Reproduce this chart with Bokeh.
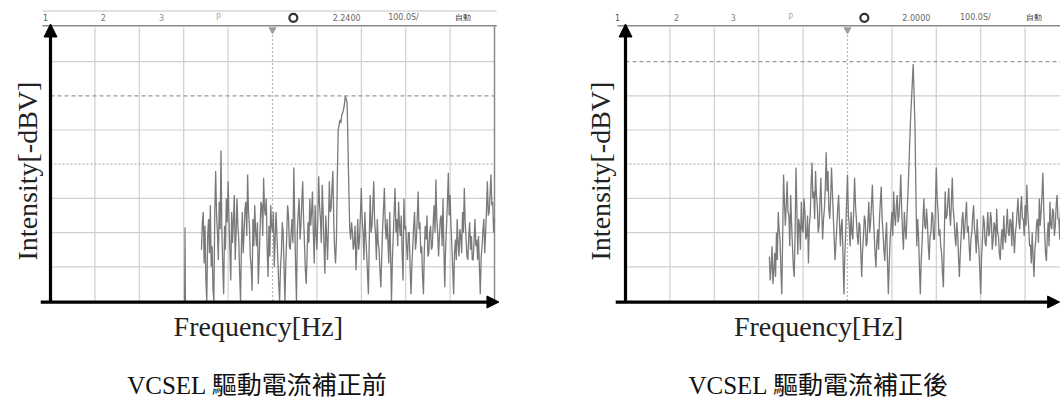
import numpy as np
from bokeh.plotting import figure
from bokeh.layouts import row
from bokeh.models import Arrow, NormalHead
from bokeh.core.properties import value
from bokeh.embed import file_html
from bokeh.resources import INLINE

# ---------------- data (screen divisions: x 0..10, y 0..8) ----------------
step = 0.02
left_start = 3.40
left_intensity = [
    1.5, 2.3, 2.6, 1.1, 2.2, 0.6, 0.0, 1.9, 2.4, 1.4, 2.8, 1.0, 1.6, 0.3, 0.0, 2.6,
    3.8, 2.5, 2.0, 1.2, 2.9, 2.1, 4.4, 2.0, 1.0, 0.2, 2.2, 1.5, 3.0, 2.3, 3.5, 2.4,
    1.5, 0.6, 2.6, 1.7, 2.4, 3.1, 1.2, 2.0, 3.0, 2.2, 1.8, 0.8, 0.0, 1.6, 2.6, 1.4,
    2.0, 2.7, 2.9, 1.9, 3.7, 2.6, 2.2, 1.3, 1.0, 0.3, 2.4, 1.6, 2.8, 2.0, 1.6, 2.3,
    0.5, 1.2, 2.1, 2.9, 2.8, 1.9, 3.6, 2.7, 2.5, 3.0, 1.5, 0.7, 2.2, 1.3, 2.8, 2.2,
    2.0, 2.6, 1.0, 1.8, 2.6, 1.9, 1.2, 0.5, 0.0, 1.0, 1.4, 2.3, 2.0, 1.0, 0.0, 1.1,
    1.9, 2.8, 2.5, 1.6, 1.5, 2.0, 2.4, 1.7, 3.9, 2.4, 1.0, 0.0, 2.1, 2.6, 3.0, 1.8,
    2.2, 2.9, 3.5, 2.4, 1.7, 0.9, 0.5, 1.4, 2.3, 1.7, 3.0, 2.2, 2.6, 3.2, 2.0, 1.1,
    2.8, 2.0, 1.5, 2.4, 3.65, 2.8, 2.4, 1.7, 3.4, 2.6, 1.6, 0.8, 2.5, 1.9, 1.2, 2.2,
    3.5, 2.6, 2.7, 3.3, 3.8, 2.3, 1.5, 1.1, 1.8, 3.6, 5.0, 5.15, 5.3, 5.2, 5.45, 5.5,
    5.6, 5.75, 6.0, 5.9, 5.8, 4.6, 3.2, 2.1, 1.8, 2.3, 2.0, 1.5, 1.7, 2.2, 0.9, 1.6,
    2.4, 1.5, 1.8, 2.5, 3.3, 2.4, 2.0, 1.2, 2.6, 1.9, 1.4, 0.8, 0.2, 1.8, 3.1, 2.0,
    2.2, 2.8, 3.5, 2.3, 2.0, 1.2, 2.4, 1.7, 1.5, 0.9, 0.4, 1.3, 2.1, 2.7, 3.3, 2.2,
    1.8, 2.4, 1.7, 1.1, 2.6, 1.4, 0.0, 1.2, 1.9, 2.6, 3.3, 2.0, 2.4, 1.6, 2.9, 2.2,
    1.9, 2.5, 1.4, 0.6, 3.0, 2.1, 2.2, 1.6, 1.2, 2.0, 2.0, 0.9, 0.2, 1.1, 1.6, 2.2,
    2.6, 1.5, 1.8, 2.4, 3.2, 2.1, 2.3, 1.4, 1.6, 0.7, 0.2, 1.5, 2.2, 1.8, 2.5, 1.3,
    1.4, 2.0, 2.2, 1.5, 1.6, 2.3, 2.8, 2.0, 3.55, 2.4, 2.0, 1.3, 1.9, 2.4, 2.5, 1.6,
    3.0, 1.5, 0.4, 1.6, 2.2, 2.9, 3.75, 2.5, 3.1, 2.2, 1.6, 0.9, 0.2, 1.4, 1.8, 1.2,
    2.4, 1.7, 1.3, 2.1, 1.9, 1.4, 2.6, 2.0, 3.3, 2.3, 1.8, 1.3, 1.2, 1.9, 2.3, 1.5,
    1.9, 1.2, 1.2, 1.8, 2.4, 1.6, 1.8, 1.2, 1.9, 1.0, 0.2, 1.3, 1.6, 2.1, 2.4, 1.4,
    2.0, 2.7, 3.5, 2.5, 2.6, 3.1, 3.7, 2.8, 2.9, 2.0, 2.4,
]
left_spike_freq = [3.02, 3.03, 3.04]
left_spike_intensity = [0.0, 2.15, 0.0]

right_start = 3.24
right_intensity = [
    1.3, 0.6, 1.0, 1.6, 0.5, 0.9, 1.4, 0.7, 2.0, 1.2, 2.6, 2.1, 1.8, 0.9, 0.2, 1.9,
    3.7, 2.9, 2.2, 2.8, 3.5, 2.6, 2.5, 1.6, 3.1, 2.3, 1.6, 1.0, 0.7, 2.0, 3.9, 2.7,
    1.35, 2.4, 2.2, 1.5, 2.9, 2.1, 2.0, 3.0, 2.6, 1.8, 1.9, 2.5, 1.1, 2.2, 2.5, 3.4,
    4.05, 3.0, 3.2, 2.4, 3.8, 3.1, 2.8, 2.0, 2.2, 2.9, 3.6, 2.6, 1.8, 2.4, 2.7, 3.3,
    4.35, 3.2, 3.8, 2.7, 2.4, 3.0, 3.9, 3.2, 2.5, 1.8, 1.2, 1.7, 2.2, 2.7, 3.1, 2.3,
    1.6, 2.2, 2.4, 1.2, 0.2, 1.4, 2.0, 2.9, 3.7, 2.5, 2.2, 1.6, 2.6, 2.0, 1.8, 2.7,
    3.6, 2.8, 2.4, 1.9, 1.65, 2.3, 2.2, 1.4, 0.7, 1.5, 1.9, 2.5, 2.35, 1.6, 1.7, 2.3,
    2.9, 2.0, 2.3, 2.8, 3.4, 2.6, 2.0, 1.4, 0.98, 1.7, 2.1, 1.5, 2.4, 2.9, 3.35, 2.4,
    2.0, 1.5, 1.17, 1.9, 2.3, 1.2, 0.2, 1.1, 1.8, 2.2, 2.6, 1.9, 3.2, 2.5, 2.2, 2.8,
    3.1, 2.3, 2.5, 3.0, 3.7, 2.7, 2.0, 1.5, 2.6, 2.1, 1.8, 2.5, 3.1, 3.8, 4.6, 5.3,
    5.85, 6.4, 6.93, 6.0, 5.1, 3.2, 1.6, 2.4, 1.9, 1.0, 0.2, 1.2, 1.7, 2.4, 3.0, 2.2,
    2.1, 2.7, 2.3, 1.6, 1.2, 1.9, 2.0, 2.6, 2.5, 1.8, 1.8, 2.8, 3.9, 3.0, 2.6, 1.9,
    2.1, 1.6, 1.4, 0.8, 0.4, 1.9, 3.2, 2.4, 2.5, 2.9, 3.3, 2.6, 2.2, 2.9, 3.6, 2.7,
    2.4, 1.9, 1.6, 2.3, 2.0, 1.3, 0.7, 1.4, 1.9, 2.4, 2.6, 1.8, 2.1, 2.5, 2.9, 2.0,
    2.2, 1.6, 1.17, 1.8, 2.0, 2.5, 2.8, 2.1, 1.9, 1.4, 2.4, 1.8, 1.5, 0.9, 0.2, 1.3,
    1.8, 2.5, 2.3, 1.7, 1.6, 2.1, 2.6, 1.9, 2.0, 2.6, 2.4, 1.5, 1.8, 2.3, 2.2, 1.6,
    2.7, 2.0, 1.9, 1.4, 1.2, 1.8, 2.1, 1.5, 2.5, 1.9, 1.7, 2.2, 2.7, 2.0, 1.9, 2.4,
    2.3, 1.6, 2.6, 1.9, 1.4, 2.0, 2.2, 2.6, 3.0, 2.3, 2.1, 2.7, 3.07, 2.4, 2.4, 1.9,
    2.8, 2.2, 3.4, 2.6, 2.2, 1.6, 1.65, 1.1, 2.0, 1.3, 0.7, 1.5, 1.8, 2.3, 2.4, 1.7,
    3.0, 2.2, 2.6, 3.1, 3.75, 2.7, 2.0, 1.4, 1.17, 1.9, 2.3, 1.6, 2.9, 2.2, 2.1, 2.7,
    2.6, 1.9, 2.2, 2.8, 3.1, 2.4, 2.4, 1.8, 2.8, 2.1, 2.5,
]

header_labels_left = ["1", "2", "3", "P", "2.2400", "100.0S/", "自動"]
header_labels_right = ["1", "2", "3", "P", "2.0000", "100.0S/", "自動"]
y_label = "Intensity[-dBV]"
x_label = "Frequency[Hz]"
caption_left = "VCSEL 驅動電流補正前"
caption_right = "VCSEL 驅動電流補正後"
marker_level_left = 6
marker_level_right = 7

# ---------------- layout constants ----------------
PW, PH = 530, 405
DX, DY = 44.4, 34.2
AXIS_Y_PX = 300.5
SERIF = value("Liberation Serif")
MIXED = value("Liberation Serif, Noto Sans CJK TC")


def panel(axis_px, freq, vals, header, hdr_x, marker_level, caption,
          ylab_x, xlab_x, cap_x, show_header_top, spikes=None, frame_right=True):
    x0 = -axis_px / DX
    x1 = (PW - axis_px) / DX
    y0 = -(PH - AXIS_Y_PX) / DY
    y1 = AXIS_Y_PX / DY
    p = figure(width=PW, height=PH, x_range=(x0, x1), y_range=(y0, y1),
               output_backend="svg", toolbar_location=None,
               x_axis_location=None, y_axis_location=None,
               min_border=0, min_border_left=0, min_border_right=0,
               min_border_top=0, min_border_bottom=0)
    p.grid.visible = False
    p.outline_line_color = None
    p.background_fill_color = "white"
    p.border_fill_color = "white"

    gx = [i for i in range(1, 10) if i != 5]
    p.segment(x0=gx, y0=[0] * len(gx), x1=gx, y1=[8] * len(gx),
              line_color="#cfcfcf", line_width=1.2)
    gy = [j for j in range(1, 8) if j not in (4, marker_level)]
    p.segment(x0=[0] * len(gy), y0=gy, x1=[10] * len(gy), y1=gy,
              line_color="#cfcfcf", line_width=1.2)
    # centre lines
    p.segment(x0=[5, 0], y0=[0, 4], x1=[5, 10], y1=[8, 4],
              line_color="#b5b5b5", line_width=1.2, line_dash="2 2")
    # marker level line
    p.segment(x0=[0], y0=[marker_level], x1=[10], y1=[marker_level],
              line_color="#999999", line_width=1.3, line_dash="4 3")
    # frame (header bottom line + right border)
    p.segment(x0=[-0.18], y0=[8.05], x1=[10.05], y1=[8.05],
              line_color="#8a8a8a", line_width=1.5)
    if frame_right:
        p.segment(x0=[10.0], y0=[0], x1=[10.0], y1=[8.05],
                  line_color="#8a8a8a", line_width=1.5)
    if show_header_top:
        p.segment(x0=[-0.18], y0=[8.48], x1=[10.05], y1=[8.48],
                  line_color="#c4c4c4", line_width=1.2)
    # centre trigger marker
    p.scatter(x=[5], y=[7.93], marker="inverted_triangle", size=7,
              fill_color="#a0a0a0", line_color="#a0a0a0")

    # trace
    if spikes is not None:
        p.line(x=spikes[0], y=spikes[1], line_color="#7a7a7a", line_width=1.2)
    p.line(x=freq, y=vals, line_color="#7a7a7a", line_width=1.3)

    # header texts
    hy = 8.28
    txt_pos = [hdr_x[0], hdr_x[1], hdr_x[2], hdr_x[3], hdr_x[5], hdr_x[6], hdr_x[7]]
    colors = ["#555555", "#777777", "#888888", "#aaaaaa", "#666666", "#666666", "#333333"]
    p.text(x=txt_pos, y=[hy] * len(txt_pos), text=header,
           text_font=value("DejaVu Sans"), text_font_size="8px",
           text_color=colors, text_align="center", text_baseline="middle")
    p.scatter(x=[hdr_x[4]], y=[hy], marker="circle", size=8,
              fill_color=None, line_color="#333333", line_width=2.2)

    # axes arrows
    p.add_layout(Arrow(x_start=0, y_start=-0.06, x_end=0, y_end=8.1,
                       line_width=3.2, line_color="black",
                       end=NormalHead(size=13, fill_color="black", line_color="black")))
    p.add_layout(Arrow(x_start=-0.22, y_start=-0.03, x_end=x1 - 0.02 if not frame_right else 10.1,
                       y_end=-0.03, line_width=3.2, line_color="black",
                       end=NormalHead(size=12, fill_color="black", line_color="black")))

    # labels
    p.text(x=[ylab_x], y=[3.8], text=[y_label], angle=np.pi / 2,
           text_font=SERIF, text_font_size="28px", text_color="#222222",
           text_align="center", text_baseline="middle")
    p.text(x=[xlab_x], y=[-0.76], text=[x_label],
           text_font=SERIF, text_font_size="28px", text_color="#222222",
           text_align="center", text_baseline="middle")
    p.text(x=[cap_x], y=[-2.47], text=[caption],
           text_font=MIXED, text_font_size="25px", text_color="#111111",
           text_align="center", text_baseline="middle")
    return p


left_freq = left_start + step * np.arange(len(left_intensity))
right_freq = right_start + step * np.arange(len(right_intensity))

p1 = panel(50, left_freq, left_intensity, header_labels_left,
           [-0.11, 1.19, 2.5, 3.78, 5.47, 6.67, 7.95, 9.28], marker_level_left,
           caption_left, -0.51, 4.68, 4.66, True,
           spikes=(left_spike_freq, left_spike_intensity), frame_right=True)
p2 = panel(95, right_freq, right_intensity, header_labels_right,
           [-0.18, 1.15, 2.43, 3.72, 5.38, 6.55, 7.88, 9.19], marker_level_right,
           caption_right, -0.57, 4.35, 4.35, False, frame_right=False)

layout = row(p1, p2, spacing=0)
open("out.html", "w").write(file_html(layout, INLINE))
